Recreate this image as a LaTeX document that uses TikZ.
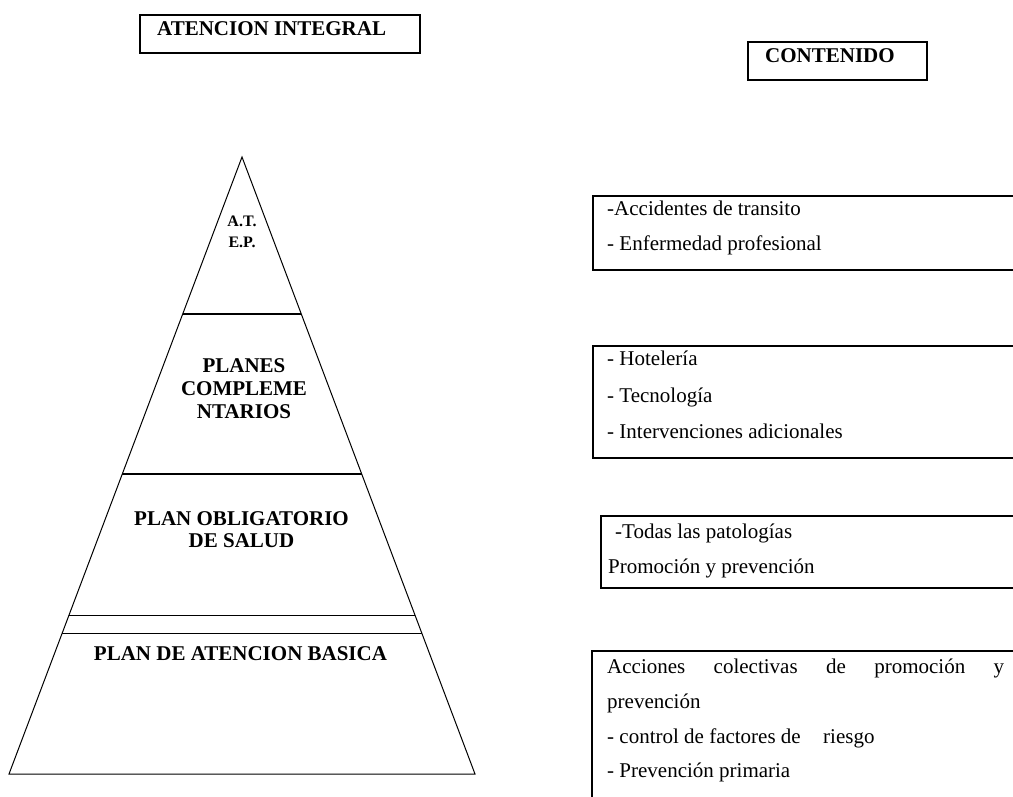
\documentclass[tikz,border=0pt]{standalone}
\usepackage{fontspec}
\setmainfont{Liberation Serif}
\usetikzlibrary{calc}

\tikzset{
  frame/.style={draw, line width=2pt},
  pyredge/.style={line width=1pt},
  divider/.style={line width=1.8pt},
  thinline/.style={line width=1pt},
  headtext/.style={font=\fontsize{21}{25}\selectfont\bfseries, anchor=base west, inner sep=0pt},
  leveltext/.style={font=\fontsize{21}{25}\selectfont\bfseries, anchor=base, inner sep=0pt},
  smalllevel/.style={font=\fontsize{16}{19}\selectfont\bfseries, anchor=base, inner sep=0pt},
  itemtext/.style={font=\fontsize{21}{25}\selectfont, anchor=base west, inner sep=0pt}
}

\begin{document}
\begin{tikzpicture}[x=1pt, y=-1pt]
  \clip (0,0) rectangle (1013,796);
  \fill[white] (0,0) rectangle (1013,796);

  % headings
  \draw[frame] (140,15) rectangle (420,53);
  \node[headtext] (hAtencion) at (157,35) {ATENCION INTEGRAL};
  \draw[frame] (748,42) rectangle (927,80);
  \node[headtext] (hContenido) at (765,62) {CONTENIDO};

  % pyramid outline
  \coordinate (apex) at (242,157);
  \coordinate (bl) at (9,774);
  \coordinate (br) at (475,774);
  \draw[pyredge] (apex) -- (bl) -- (br) -- cycle;

  % level dividers
  \coordinate (d1l) at ($(apex)!0.2545!(bl)$);
  \coordinate (d1r) at ($(apex)!0.2545!(br)$);
  \coordinate (d2l) at ($(apex)!0.5138!(bl)$);
  \coordinate (d2r) at ($(apex)!0.5138!(br)$);
  \coordinate (d3l) at ($(apex)!0.7439!(bl)$);
  \coordinate (d3r) at ($(apex)!0.7439!(br)$);
  \coordinate (d4l) at ($(apex)!0.7715!(bl)$);
  \coordinate (d4r) at ($(apex)!0.7715!(br)$);
  \draw[divider] (d1l) -- (d1r);
  \draw[divider] (d2l) -- (d2r);
  \draw[thinline] (d3l) -- (d3r);
  \draw[thinline] (d4l) -- (d4r);

  % level labels
  \node[smalllevel] (lAT) at (242,226) {A.T.};
  \node[smalllevel] (lEP) at (242,247) {E.P.};
  \node[leveltext] (lPl1) at (244,372) {PLANES};
  \node[leveltext] (lPl2) at (244,395) {COMPLEME};
  \node[leveltext] (lPl3) at (244,418) {NTARIOS};
  \node[leveltext] (lPos1) at (241.5,525) {PLAN OBLIGATORIO};
  \node[leveltext] (lPos2) at (241.5,547) {DE SALUD};
  \node[leveltext] (lPab) at (240.5,660) {PLAN DE ATENCION BASICA};

  % content boxes
  \draw[frame] (593,196) rectangle (1040,270);
  \node[itemtext] (a1) at (607,215) {-Accidentes de transito};
  \node[itemtext] (a2) at (607,250) {- Enfermedad profesional};

  \draw[frame] (593,346) rectangle (1040,458);
  \node[itemtext] (b1) at (607,365) {- Hotelería};
  \node[itemtext] (b2) at (607,402) {- Tecnología};
  \node[itemtext] (b3) at (607,438) {- Intervenciones adicionales};

  \draw[frame] (601,516) rectangle (1040,588);
  \node[itemtext] (c1) at (615,538) {-Todas las patologías};
  \node[itemtext] (c2) at (608,573) {Promoción y prevención};

  \draw[frame] (592,651) rectangle (1040,820);
  \node[itemtext] (e1) at (607,673) {\hbox to 397pt{Acciones\hfill colectivas\hfill de\hfill promoción\hfill y}};
  \node[itemtext] (e2) at (607,708) {prevención};
  \node[itemtext] (e3) at (607,743) {- control de factores de};
  \node[itemtext] (e3b) at (823,743) {riesgo};
  \node[itemtext] (e4) at (607,777) {- Prevención primaria};
\end{tikzpicture}
\end{document}
